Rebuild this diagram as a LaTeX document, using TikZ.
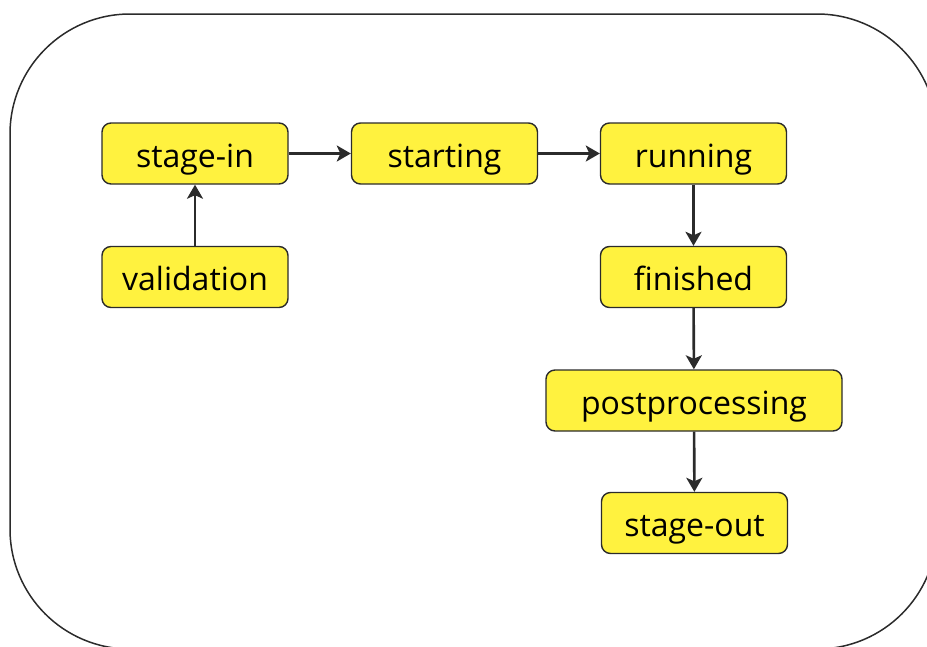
\documentclass[tikz,border=0pt]{standalone}
\usepackage{fontspec}
\setmainfont{Open Sans}
\usetikzlibrary{arrows.meta}
\definecolor{stateyellow}{HTML}{FFF23F}
\definecolor{inkdark}{HTML}{2B2B2B}
\begin{document}
\begin{tikzpicture}[x=1pt,y=-1pt,
  state/.style={draw=inkdark, line width=1.4pt, fill=stateyellow, rounded corners=9pt,
    minimum height=61pt, minimum width=186pt, inner sep=0pt,
    text height=27pt, text depth=0pt, font=\fontsize{32}{38}\selectfont},
  flow/.style={draw=inkdark, line width=2.6pt, -{Stealth[length=14pt,width=16pt,inset=3.5pt]}}]
  \useasboundingbox (0,0) rectangle (927,646);
  \begin{scope}
    \clip (0,0) rectangle (927,646);
    \draw[inkdark, line width=1.5pt, rounded corners=120pt] (10,14) rectangle (937,649);
  \end{scope}

  \node[state] (stagein)   at (195,153.5) {stage-in};
  \node[state] (starting)  at (444.5,153.5) {starting};
  \node[state] (running)   at (693.5,153.5) {running};
  \node[state] (validation) at (195,277) {validation};
  \node[state] (finished)  at (693.5,277) {finished};
  \node[state, minimum width=296pt] (post) at (694,400.5) {postprocessing};
  \node[state] (stageout)  at (694.5,523) {stage-out};

  \draw[flow] (validation) -- (stagein);
  \draw[flow] (stagein) -- (starting);
  \draw[flow] (starting) -- (running);
  \draw[flow] (running) -- (finished);
  \draw[flow] (finished) -- (post);
  \draw[flow] (post) -- (stageout);
\end{tikzpicture}
\end{document}
